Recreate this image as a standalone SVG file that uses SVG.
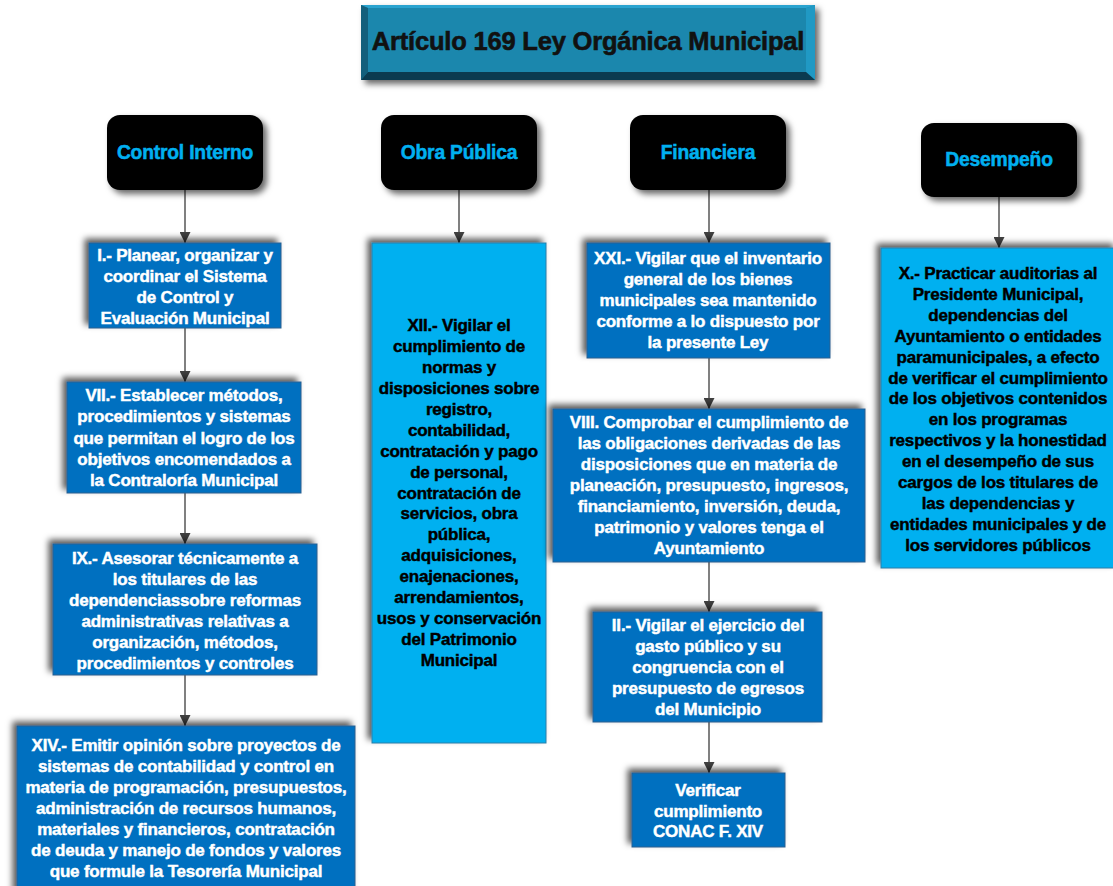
<svg xmlns="http://www.w3.org/2000/svg" width="1113" height="886" viewBox="0 0 1113 886">
<defs>
<style>
.t{font-family:"Liberation Sans",Arial,sans-serif;font-weight:bold;text-anchor:middle;letter-spacing:-0.2px}
.w{fill:#ffffff;stroke:#ffffff;stroke-width:0.45px;font-size:17px}
.k{fill:#000000;stroke:#000000;stroke-width:0.45px;font-size:17px}
.h{fill:#00b0f0;stroke:#00b0f0;stroke-width:0.5px;font-size:19.3px}
.blue{fill:#0070c0;stroke:#2a5f8f;stroke-width:1}
.cyan{fill:#00b0f0;stroke:#2a7fa8;stroke-width:1}
.head{fill:#000000}
.con{stroke:#808080;stroke-width:2;fill:none}
</style>
<filter id="shUL" x="-20%" y="-20%" width="140%" height="140%">
<feDropShadow dx="-4" dy="-4" stdDeviation="3" flood-color="#000" flood-opacity="0.65"/>
</filter>
<filter id="shDR" x="-20%" y="-20%" width="140%" height="140%">
<feDropShadow dx="4" dy="4" stdDeviation="3" flood-color="#000" flood-opacity="0.6"/>
</filter>
<marker id="arr" viewBox="0 0 10 10" refX="10" refY="5" markerWidth="5.5" markerHeight="5.5" orient="auto" markerUnits="strokeWidth">
<path d="M0,0 L10,5 L0,10 Z" fill="#404040"/>
</marker>
</defs>
<rect width="1113" height="886" fill="#ffffff"/>

<g id="title">
<g filter="url(#shDR)">
<rect x="361" y="5" width="454" height="75" fill="#1b87ad"/>
</g>
<polygon points="361,5 815,5 806,8 368,8" fill="#2aa3cf"/>
<polygon points="361,5 368,8 368,72 361,80" fill="#135f7c"/>
<polygon points="815,5 806,8 806,72 815,80" fill="#2099c4"/>
<polygon points="361,80 368,72 806,72 815,80" fill="#0b3b50"/>
<rect x="368" y="8" width="438" height="64" fill="#1b87ad"/>
<text class="t" x="588" y="50" font-size="25.5" fill="#111111" stroke="#111111" stroke-width="0.6">Artículo 169 Ley Orgánica Municipal</text>
</g>

<g id="connectors">
<line class="con" x1="185" y1="190" x2="185" y2="243" marker-end="url(#arr)"/>
<line class="con" x1="185" y1="328" x2="185" y2="382" marker-end="url(#arr)"/>
<line class="con" x1="185" y1="493" x2="185" y2="544" marker-end="url(#arr)"/>
<line class="con" x1="185" y1="675" x2="185" y2="726" marker-end="url(#arr)"/>
<line class="con" x1="459" y1="190" x2="459" y2="243" marker-end="url(#arr)"/>
<line class="con" x1="709" y1="190" x2="709" y2="243" marker-end="url(#arr)"/>
<line class="con" x1="709" y1="358" x2="709" y2="409" marker-end="url(#arr)"/>
<line class="con" x1="709" y1="562" x2="709" y2="612" marker-end="url(#arr)"/>
<line class="con" x1="709" y1="722" x2="709" y2="773" marker-end="url(#arr)"/>
<line class="con" x1="999" y1="197" x2="999" y2="248" marker-end="url(#arr)"/>
</g>

<g id="h-control">
<rect class="head" x="107" y="115" width="156" height="75" rx="13" filter="url(#shDR)"/>
<text class="t h" x="185" y="159">Control Interno</text>
</g>
<g id="h-obra">
<rect class="head" x="381" y="115" width="156" height="75" rx="13" filter="url(#shDR)"/>
<text class="t h" x="459" y="159">Obra Pública</text>
</g>
<g id="h-fin">
<rect class="head" x="630" y="115" width="156" height="75" rx="13" filter="url(#shDR)"/>
<text class="t h" x="708" y="159">Financiera</text>
</g>
<g id="h-des">
<rect class="head" x="921" y="123" width="156" height="74" rx="13" filter="url(#shDR)"/>
<text class="t h" x="999" y="166">Desempeño</text>
</g>

<g id="ci-1">
<rect class="blue" x="89" y="243" width="192" height="85" filter="url(#shUL)"/>
<text class="t w" x="185" y="261"><tspan x="185">I.- Planear, organizar y</tspan><tspan x="185" dy="21">coordinar el Sistema</tspan><tspan x="185" dy="21">de Control y</tspan><tspan x="185" dy="21">Evaluación Municipal</tspan></text>
</g>
<g id="ci-7">
<rect class="blue" x="67" y="382" width="234" height="111" filter="url(#shUL)"/>
<text class="t w" x="184" y="401"><tspan x="184">VII.- Establecer métodos,</tspan><tspan x="184" dy="21.3">procedimientos y sistemas</tspan><tspan x="184" dy="21.3">que permitan el logro de los</tspan><tspan x="184" dy="21.3">objetivos encomendados a</tspan><tspan x="184" dy="21.3">la Contraloría Municipal</tspan></text>
</g>
<g id="ci-9">
<rect class="blue" x="53" y="544" width="264" height="131" filter="url(#shUL)"/>
<text class="t w" x="185" y="564"><tspan x="185">IX.- Asesorar técnicamente a</tspan><tspan x="185" dy="21">los titulares de las</tspan><tspan x="185" dy="21">dependenciassobre reformas</tspan><tspan x="185" dy="21">administrativas relativas a</tspan><tspan x="185" dy="21">organización, métodos,</tspan><tspan x="185" dy="21">procedimientos y controles</tspan></text>
</g>
<g id="ci-14">
<rect class="blue" x="17" y="726" width="338" height="170" filter="url(#shUL)"/>
<text class="t w" x="186" y="751"><tspan x="186">XIV.- Emitir opinión sobre proyectos de</tspan><tspan x="186" dy="21">sistemas de contabilidad y control en</tspan><tspan x="186" dy="21">materia de programación, presupuestos,</tspan><tspan x="186" dy="21">administración de recursos humanos,</tspan><tspan x="186" dy="21">materiales y financieros, contratación</tspan><tspan x="186" dy="21">de deuda y manejo de fondos y valores</tspan><tspan x="186" dy="21">que formule la Tesorería Municipal</tspan></text>
</g>

<g id="op-12">
<rect class="cyan" x="372" y="243" width="174" height="500" filter="url(#shUL)"/>
<text class="t k" x="459" y="331"><tspan x="459">XII.- Vigilar el</tspan><tspan x="459" dy="20.94">cumplimiento de</tspan><tspan x="459" dy="20.94">normas y</tspan><tspan x="459" dy="20.94">disposiciones sobre</tspan><tspan x="459" dy="20.94">registro,</tspan><tspan x="459" dy="20.94">contabilidad,</tspan><tspan x="459" dy="20.94">contratación y pago</tspan><tspan x="459" dy="20.94">de personal,</tspan><tspan x="459" dy="20.94">contratación de</tspan><tspan x="459" dy="20.94">servicios, obra</tspan><tspan x="459" dy="20.94">pública,</tspan><tspan x="459" dy="20.94">adquisiciones,</tspan><tspan x="459" dy="20.94">enajenaciones,</tspan><tspan x="459" dy="20.94">arrendamientos,</tspan><tspan x="459" dy="20.94">usos y conservación</tspan><tspan x="459" dy="20.94">del Patrimonio</tspan><tspan x="459" dy="20.94">Municipal</tspan></text>
</g>

<g id="fi-21">
<rect class="blue" x="587" y="243" width="243" height="115" filter="url(#shUL)"/>
<text class="t w" x="708" y="264"><tspan x="708">XXI.- Vigilar que el inventario</tspan><tspan x="708" dy="21">general de los bienes</tspan><tspan x="708" dy="21">municipales sea mantenido</tspan><tspan x="708" dy="21">conforme a lo dispuesto por</tspan><tspan x="708" dy="21">la presente Ley</tspan></text>
</g>
<g id="fi-8">
<rect class="blue" x="553" y="409" width="312" height="153" filter="url(#shUL)"/>
<text class="t w" x="709" y="428"><tspan x="709">VIII. Comprobar el cumplimiento de</tspan><tspan x="709" dy="21">las obligaciones derivadas de las</tspan><tspan x="709" dy="21">disposiciones que en materia de</tspan><tspan x="709" dy="21">planeación, presupuesto, ingresos,</tspan><tspan x="709" dy="21">financiamiento, inversión, deuda,</tspan><tspan x="709" dy="21">patrimonio y valores tenga el</tspan><tspan x="709" dy="21">Ayuntamiento</tspan></text>
</g>
<g id="fi-2">
<rect class="blue" x="593" y="612" width="229" height="110" filter="url(#shUL)"/>
<text class="t w" x="708" y="631"><tspan x="708">II.- Vigilar el ejercicio del</tspan><tspan x="708" dy="21">gasto público y su</tspan><tspan x="708" dy="21">congruencia con el</tspan><tspan x="708" dy="21">presupuesto de egresos</tspan><tspan x="708" dy="21">del Municipio</tspan></text>
</g>
<g id="fi-conac">
<rect class="blue" x="632" y="773" width="153" height="74" filter="url(#shUL)"/>
<text class="t w" x="708" y="796"><tspan x="708">Verificar</tspan><tspan x="708" dy="20.5">cumplimiento</tspan><tspan x="708" dy="20.5">CONAC F. XIV</tspan></text>
</g>

<g id="de-10">
<rect class="cyan" x="881" y="248" width="236" height="320" filter="url(#shUL)"/>
<text class="t k" x="998" y="279"><tspan x="998">X.- Practicar auditorias al</tspan><tspan x="998" dy="20.9">Presidente Municipal,</tspan><tspan x="998" dy="20.9">dependencias del</tspan><tspan x="998" dy="20.9">Ayuntamiento o entidades</tspan><tspan x="998" dy="20.9">paramunicipales, a efecto</tspan><tspan x="998" dy="20.9">de verificar el cumplimiento</tspan><tspan x="998" dy="20.9">de los objetivos contenidos</tspan><tspan x="998" dy="20.9">en los programas</tspan><tspan x="998" dy="20.9">respectivos y la honestidad</tspan><tspan x="998" dy="20.9">en el desempeño de sus</tspan><tspan x="998" dy="20.9">cargos de los titulares de</tspan><tspan x="998" dy="20.9">las dependencias y</tspan><tspan x="998" dy="20.9">entidades municipales y de</tspan><tspan x="998" dy="20.9">los servidores públicos</tspan></text>
</g>
</svg>
